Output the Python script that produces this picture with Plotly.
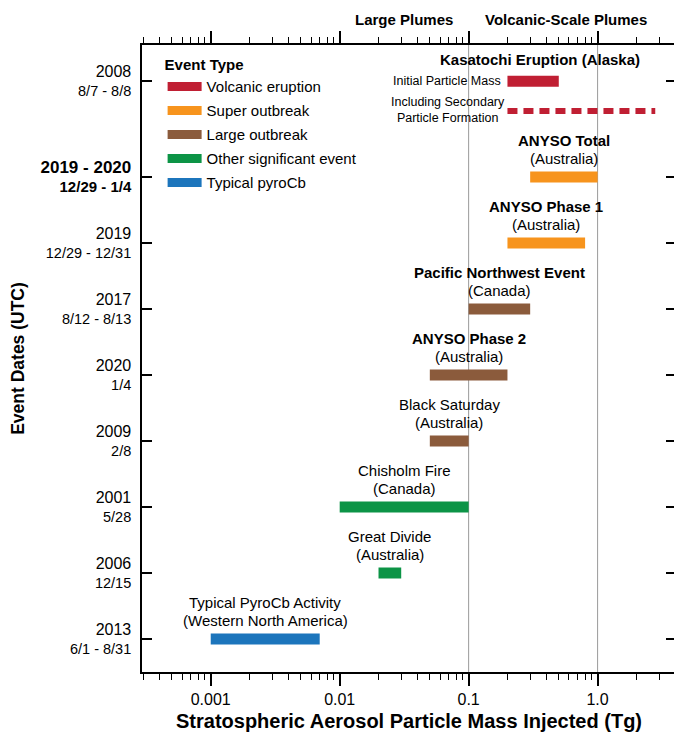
import math
import plotly.graph_objects as go

# ---------------- data ----------------
years = ["2013", "2006", "2001", "2009", "2020", "2017", "2019", "2019 - 2020", "2008"]
dates = ["6/1 - 8/31", "12/15", "5/28", "2/8", "1/4", "8/12 - 8/13", "12/29 - 12/31", "12/29 - 1/4", "8/7 - 8/8"]

event_names = ["Typical PyroCb Activity", "Great Divide", "Chisholm Fire", "Black Saturday",
               "ANYSO Phase 2", "Pacific Northwest Event", "ANYSO Phase 1", "ANYSO Total",
               "Kasatochi Eruption (Alaska)"]
event_regions = ["(Western North America)", "(Australia)", "(Canada)", "(Australia)",
                 "(Australia)", "(Canada)", "(Australia)", "(Australia)", ""]
event_types = ["Typical pyroCb", "Other significant event", "Other significant event", "Large outbreak",
               "Large outbreak", "Large outbreak", "Super outbreak", "Super outbreak", "Volcanic eruption"]
mass_low = [0.001, 0.02, 0.01, 0.05, 0.05, 0.1, 0.2, 0.3, 0.2]
mass_high = [0.007, 0.03, 0.1, 0.1, 0.2, 0.3, 0.8, 1.0, 0.5]

kasatochi_secondary = [0.2, 2.8]   # including secondary particle formation

type_order = ["Volcanic eruption", "Super outbreak", "Large outbreak", "Other significant event", "Typical pyroCb"]
type_colors = {
    "Volcanic eruption": "#C01F33",
    "Super outbreak": "#F7941D",
    "Large outbreak": "#8B5B3C",
    "Other significant event": "#0C9446",
    "Typical pyroCb": "#1C75BC",
}
plume_thresholds = [0.1, 1.0]
x_tick_vals = [0.001, 0.01, 0.1, 1.0]
x_tick_text = ["0.001", "0.01", "0.1", "1.0"]

bold_events = {"Kasatochi Eruption (Alaska)", "ANYSO Total", "ANYSO Phase 1",
               "Pacific Northwest Event", "ANYSO Phase 2"}
bold_rows = {"2019 - 2020"}

# ---------------- layout helpers ----------------
n = len(years)
row_pos = list(range(n - 1)) + [n - 1 + 0.45]   # Kasatochi initial-mass bar sits above its dashed bar
secondary_pos = n - 1
y_range = [-0.5, 9.0]
x_range = [-3.533, 0.608]

FONT = "Liberation Sans, Arial, Helvetica, sans-serif"

fig = go.Figure()

# threshold lines
for t in plume_thresholds:
    fig.add_trace(go.Scatter(x=[t, t], y=y_range, mode="lines",
                             line=dict(color="#9a9a9a", width=1),
                             showlegend=False, hoverinfo="skip"))

# bars (one trace per type)
for et in type_order:
    xs, ys = [], []
    for i in range(len(event_names)):
        if event_types[i] == et:
            xs += [mass_low[i], mass_high[i], None]
            ys += [row_pos[i], row_pos[i], None]
    fig.add_trace(go.Scatter(x=xs, y=ys, mode="lines",
                             line=dict(color=type_colors[et], width=11),
                             showlegend=False, hoverinfo="skip"))

# dashed Kasatochi secondary
fig.add_trace(go.Scatter(x=kasatochi_secondary, y=[secondary_pos, secondary_pos], mode="lines",
                         line=dict(color=type_colors["Volcanic eruption"], width=6, dash="10px,6px"),
                         showlegend=False, hoverinfo="skip"))

# legend entries
for et in type_order:
    fig.add_trace(go.Scatter(x=[None], y=[None], mode="lines", name=et, legendgroup=et,
                             line=dict(color=type_colors[et], width=9)))

# event labels
ann = []
for i, name in enumerate(event_names):
    xc = (math.log10(mass_low[i]) + math.log10(mass_high[i])) / 2
    t1 = f"<b>{name}</b>" if name in bold_events else name
    if event_regions[i]:
        ann.append(dict(x=xc, y=row_pos[i], text=t1, showarrow=False, yanchor="middle",
                        yshift=37, font=dict(size=15)))
        ann.append(dict(x=xc, y=row_pos[i], text=event_regions[i], showarrow=False,
                        yanchor="middle", yshift=19, font=dict(size=15)))
    else:
        ann.append(dict(x=math.log10(0.36), y=row_pos[i], text=t1, showarrow=False,
                        yanchor="middle", yshift=22, font=dict(size=15)))

k = n - 1
ann.append(dict(x=math.log10(mass_low[k]), y=row_pos[k], text="Initial Particle Mass",
                showarrow=False, xanchor="right", yanchor="middle", xshift=-4,
                font=dict(size=12.5)))
ann.append(dict(x=math.log10(kasatochi_secondary[0]), y=secondary_pos,
                text="Including Secondary<br>Particle Formation", align="center",
                showarrow=False, xanchor="right", yanchor="middle", xshift=0, yshift=1,
                font=dict(size=12.5)))

# plume category labels
ann.append(dict(x=math.log10(plume_thresholds[0]), y=1, yref="paper", text="<b>Large Plumes</b>",
                showarrow=False, xanchor="right", yanchor="middle", xshift=-14, yshift=26,
                font=dict(size=15)))
ann.append(dict(x=math.log10(plume_thresholds[0]), y=1, yref="paper", text="<b>Volcanic-Scale Plumes</b>",
                showarrow=False, xanchor="left", yanchor="middle", xshift=14, yshift=26,
                font=dict(size=15)))

# y tick labels
ytext = []
for y, d in zip(years, dates):
    if y in bold_rows:
        ytext.append(f"<span style='font-size:17px'><b>{y}</b></span><br><span style='font-size:15px'><b>{d}</b></span>")
    else:
        ytext.append(f"<span style='font-size:16px'>{y}</span><br><span style='font-size:14.5px'>{d}</span>")

minor_vals = [m * 10 ** e for e in range(-4, 1) for m in range(2, 10)
              if x_range[0] <= math.log10(m * 10 ** e) <= x_range[1]]

# the page body adds an 8px offset, so the figure is 8px smaller than the window
fig.update_layout(
    width=674, height=727,
    margin=dict(l=134, r=4, t=37, b=63),
    plot_bgcolor="white", paper_bgcolor="white",
    font=dict(family=FONT, color="black", size=15),
    annotations=ann,
    showlegend=True,
    legend=dict(x=0.0386, y=0.991, xanchor="left", yanchor="top",
                title=dict(text="<b>Event Type</b>", font=dict(size=15)),
                font=dict(size=15), bgcolor="rgba(0,0,0,0)", borderwidth=0,
                tracegroupgap=1.5, itemwidth=34),
    xaxis=dict(type="log", range=x_range, tickvals=x_tick_vals, ticktext=x_tick_text,
               ticks="outside", ticklen=12, tickwidth=1.5, tickcolor="black",
               showline=True, linewidth=1.5, linecolor="black", mirror="ticks",
               showgrid=False, zeroline=False, tickfont=dict(size=16),
               minor=dict(tickvals=minor_vals, ticks="outside", ticklen=6, tickwidth=1.2,
                          tickcolor="black", showgrid=False),
               title=dict(text="<b>Stratospheric Aerosol Particle Mass Injected (Tg)</b>",
                          font=dict(size=20), standoff=7)),
    yaxis=dict(range=y_range, tickvals=row_pos, ticktext=ytext,
               ticks="inside", ticklen=10, tickwidth=1.5, tickcolor="black",
               showline=True, linewidth=1.5, linecolor="black", mirror="ticks",
               showgrid=False, zeroline=False, ticklabelstandoff=6,
               title=dict(text="<b>Event Dates (UTC)</b>", font=dict(size=17.5), standoff=15)),
)

fig.write_html("out.html")
